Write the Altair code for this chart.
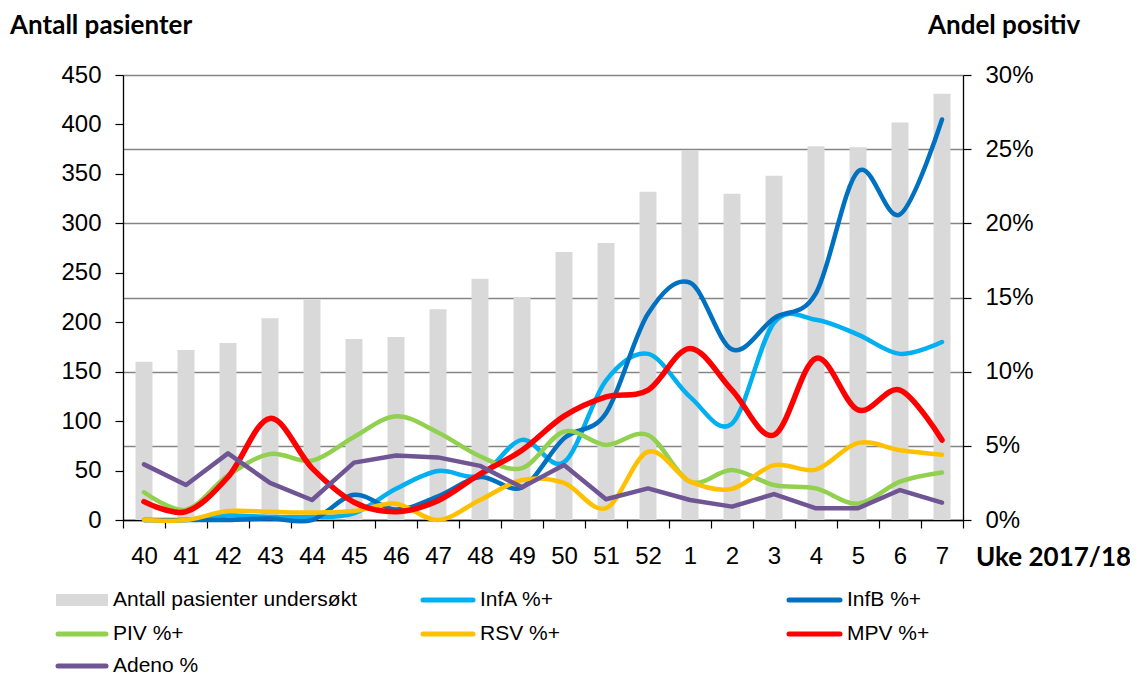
import altair as alt
import pandas as pd

# ---------------- data ----------------
weeks = ["40", "41", "42", "43", "44", "45", "46", "47", "48", "49", "50",
         "51", "52", "1", "2", "3", "4", "5", "6", "7"]
patients = [160, 172, 179, 204, 223, 183, 185, 213, 244, 225, 271,
            280, 332, 374, 330, 348, 378, 377, 402, 431]

infa = [0, 0, 0.3, 0.2, 0.2, 0.45, 2.1, 3.3, 3.0, 5.4, 3.9,
        9.4, 11.2, 8.3, 6.5, 13.3, 13.5, 12.5, 11.2, 12.0]
infb = [0, 0, 0, 0.1, 0, 1.7, 0.7, 1.6, 2.9, 2.2, 5.5,
        7.2, 13.9, 16.0, 11.5, 13.6, 15.3, 23.5, 20.6, 27.0]
piv = [1.87, 0.7, 3.0, 4.45, 4.0, 5.6, 7.0, 5.9, 4.3, 3.5, 5.96,
       5.06, 5.73, 2.58, 3.37, 2.36, 2.13, 1.1, 2.58, 3.2]
rsv = [0, 0, 0.6, 0.55, 0.5, 0.6, 1.1, 0, 1.35, 2.7, 2.5,
       0.8, 4.6, 2.6, 2.1, 3.7, 3.4, 5.2, 4.7, 4.4]
mpv = [1.24, 0.56, 2.9, 6.85, 3.5, 1.2, 0.56, 1.3, 3.1, 4.7, 7.0,
       8.3, 8.76, 11.57, 8.76, 5.73, 10.9, 7.42, 8.76, 5.39]
adeno = [3.75, 2.36, 4.49, 2.5, 1.35, 3.87, 4.35, 4.22, 3.65, 2.2, 3.71,
         1.4, 2.13, 1.35, 0.9, 1.75, 0.79, 0.79, 2.02, 1.17]

series_names = ["InfA %+", "InfB %+", "PIV %+", "RSV %+", "MPV %+", "Adeno %"]
series_values = [infa, infb, piv, rsv, mpv, adeno]
series_colors = ["#00b0f0", "#0070c0", "#92d050", "#ffc000", "#ff0000", "#6f5593"]
series_interp = ["cardinal", "cardinal", "cardinal", "cardinal", "cardinal", "linear"]
series_width = [4.5, 4.5, 4.5, 4.5, 5.5, 4.5]

bar_label = "Antall pasienter undersøkt"
left_title = "Antall pasienter"
right_title = "Andel positiv"
x_title = "Uke 2017/18"

pct_ticks = [0, 0.05, 0.10, 0.15, 0.20, 0.25, 0.30]
count_ticks = list(range(0, 451, 50))

# ---------------- layout ----------------
W, H = 840, 445
TICK_FONT = "Liberation Sans"
BOLD_FONT = "Lato"

df_bar = pd.DataFrame({"week": weeks, "patients": patients})

x_enc = alt.X(
    "week:N", sort=weeks,
    scale=alt.Scale(domain=weeks, paddingInner=0, paddingOuter=0),
    axis=alt.Axis(title=None, labelAngle=0, tickBand="extent",
                  labelFont=TICK_FONT, labelFontSize=24, labelColor="black",
                  tickColor="black", tickSize=8, tickWidth=1.2, labelPadding=16,
                  domainColor="black", domainWidth=1.3, grid=False),
)

bars = alt.Chart(df_bar).mark_bar(size=17, color="#d9d9d9").encode(
    x=x_enc,
    y=alt.Y("patients:Q",
            scale=alt.Scale(domain=[0, 450], nice=False, zero=True),
            axis=alt.Axis(orient="left", title=None, values=count_ticks,
                          grid=False, labelFont=TICK_FONT, labelFontSize=24,
                          labelColor="black", tickColor="black", tickSize=8,
                          tickWidth=1.2, labelPadding=14, domainColor="black",
                          domainWidth=1.3)),
)

y_axis = alt.Axis(orient="right", title=None, format=".0%", values=pct_ticks,
                  grid=True, gridColor="#858585", gridWidth=1.6,
                  labelFont=TICK_FONT, labelFontSize=24, labelColor="black",
                  tickColor="black", tickSize=8, tickWidth=1.2, labelPadding=14,
                  domainColor="black", domainWidth=1.3)

line_layers = []
for name, vals, col, interp, sw in zip(series_names, series_values, series_colors,
                                       series_interp, series_width):
    d = pd.DataFrame({"week": weeks, "value": [v / 100.0 for v in vals], "series": name})
    lyr = alt.Chart(d).mark_line(color=col, strokeWidth=sw, interpolate=interp,
                                 strokeCap="round", strokeJoin="round").encode(
        x=alt.X("week:N", sort=weeks),
        y=alt.Y("value:Q", scale=alt.Scale(domain=[0, 0.30], nice=False), axis=y_axis),
    )
    line_layers.append(lyr)

lines = alt.layer(*line_layers)

one = pd.DataFrame({"a": [0]})


def txt(s, x, y, size, bold=False, font=TICK_FONT, align="left"):
    return alt.Chart(one).mark_text(
        text=s, align=align, baseline="middle", font=font, fontSize=size,
        fontWeight="bold" if bold else "normal", color="black",
    ).encode(x=alt.value(x), y=alt.value(y))


extras = [
    txt(left_title, -113, -49, 26, bold=True, font=BOLD_FONT),
    txt(right_title, 805, -49, 26, bold=True, font=BOLD_FONT),
    txt(x_title, 853, 483, 26, bold=True, font=BOLD_FONT),
]

# legend: 3 columns, 3 rows
col_sym = [(-67, -15), (298, 352), (664, 719)]
col_txt = [-10, 357, 724]
row_y = [525, 559, 591]
legend_items = [("bar", bar_label, "#d9d9d9")] + [
    ("line", n, c) for n, c in zip(series_names, series_colors)]
for k, (kind, label, col) in enumerate(legend_items):
    r, c = divmod(k, 3)
    x0, x1 = col_sym[c]
    y = row_y[r]
    if kind == "bar":
        extras.append(alt.Chart(one).mark_rect(color=col).encode(
            x=alt.value(x0), x2=alt.value(x1), y=alt.value(y - 6), y2=alt.value(y + 6)))
    else:
        extras.append(alt.Chart(one).mark_rule(color=col, strokeWidth=5, strokeCap="round").encode(
            x=alt.value(x0 + 2), x2=alt.value(x1 - 2), y=alt.value(y)))
    extras.append(txt(label, col_txt[c], y, 21))

chart = alt.layer(bars, lines, *extras).resolve_scale(y="independent").properties(
    width=W, height=H,
    autosize=alt.AutoSizeParams(type="none"),
    padding={"left": 115, "top": 67, "right": 167, "bottom": 156},
).configure_view(stroke=None).configure(background="white")

chart.save("out.html", embed_options={"renderer": "svg", "actions": False})
